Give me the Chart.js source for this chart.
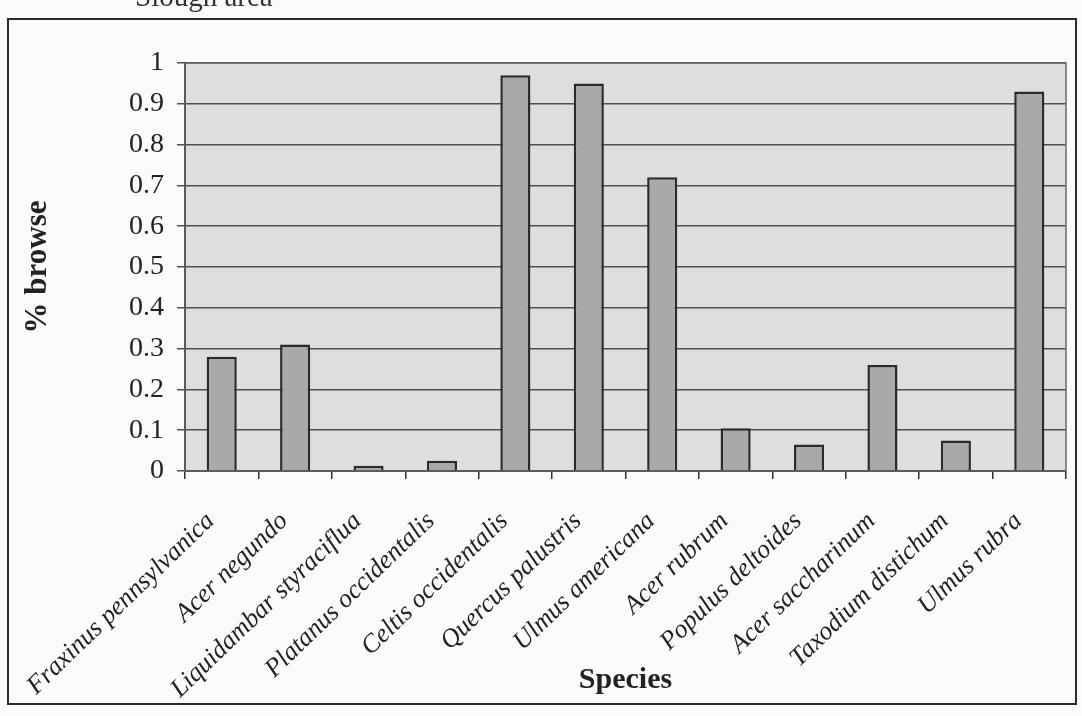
<!DOCTYPE html>
<html>
<head>
<meta charset="utf-8">
<title>% browse by species</title>
<script src="https://cdn.jsdelivr.net/npm/chart.js@4.4.1/dist/chart.umd.min.js"></script>
<style>
  html, body { margin: 0; padding: 0; background: #fbfbfa; overflow: hidden; }
  #wrap { position: relative; width: 1082px; height: 716px; }
  #frame {
    position: absolute; left: 7px; top: 18px; width: 1070px; height: 687px;
    border: 2px solid #2a2a2a; box-sizing: border-box; pointer-events: none;
  }
  #heading {
    position: absolute; left: 135px; top: -20px;
    font: 29px "Liberation Serif", "DejaVu Serif", serif; color: #333;
    white-space: nowrap;
  }
</style>
</head>
<body>
<div id="wrap">
  <div id="heading">Slough area</div>
  <canvas id="chart" width="1082" height="716"></canvas>
  <div id="frame"></div>
</div>
<script>
// Species sampled and the share of stems browsed
const species = [
  'Fraxinus pennsylvanica',
  'Acer negundo',
  'Liquidambar styraciflua',
  'Platanus occidentalis',
  'Celtis occidentalis',
  'Quercus palustris',
  'Ulmus americana',
  'Acer rubrum',
  'Populus deltoides',
  'Acer saccharinum',
  'Taxodium distichum',
  'Ulmus rubra'
];
const browse = [0.28, 0.31, 0.013, 0.025, 0.97, 0.95, 0.72, 0.105, 0.065, 0.26, 0.075, 0.93];
const yTickLabels = ['0', '0.1', '0.2', '0.3', '0.4', '0.5', '0.6', '0.7', '0.8', '0.9', '1'];

const serif = '"Liberation Serif", "DejaVu Serif", serif';

// Grey plot panel with a thin outline around the chart area
const plotPanel = {
  id: 'plotPanel',
  beforeDraw(chart) {
    const { ctx, chartArea: a } = chart;
    ctx.save();
    ctx.fillStyle = '#dedede';
    ctx.fillRect(a.left, a.top, a.right - a.left, a.bottom - a.top);
    ctx.restore();
  },
  beforeDatasetsDraw(chart) {
    const { ctx, chartArea: a } = chart;
    ctx.save();
    ctx.strokeStyle = '#6a6a6a';
    ctx.lineWidth = 1.5;
    ctx.strokeRect(a.left, a.top, a.right - a.left, a.bottom - a.top);
    ctx.restore();
  }
};

new Chart(document.getElementById('chart'), {
  type: 'bar',
  data: {
    labels: species,
    datasets: [{
      label: '% browse',
      data: browse,
      backgroundColor: '#a9a9a9',
      borderColor: '#2b2b2b',
      borderWidth: 2.5,
      borderSkipped: 'bottom',
      barPercentage: 0.41,
      categoryPercentage: 1
    }]
  },
  plugins: [plotPanel],
  options: {
    responsive: false,
    devicePixelRatio: 1,
    animation: false,
    layout: { padding: { top: 63, right: 16, left: 0, bottom: 0 } },
    plugins: {
      legend: { display: false },
      tooltip: { enabled: false }
    },
    scales: {
      x: {
        afterFit(scale) { scale.height = 245; },
        grid: {
          display: true,
          drawOnChartArea: false,
          drawTicks: true,
          tickLength: 8,
          offset: true,
          color: '#333',
          lineWidth: 1.5
        },
        border: { display: true, color: '#333', width: 2 },
        ticks: {
          autoSkip: false,
          minRotation: 44,
          maxRotation: 44,
          padding: 27,
          labelOffset: -11,
          color: '#222',
          font: { family: serif, size: 26, style: 'italic' }
        },
        title: {
          display: true,
          text: 'Species',
          color: '#222',
          padding: { top: 0, bottom: 18 },
          font: { family: serif, size: 30, weight: 'bold' }
        }
      },
      y: {
        min: 0,
        max: 1,
        afterFit(scale) { scale.width = 185; },
        grid: {
          color: '#505050',
          lineWidth: 1.5,
          drawTicks: true,
          tickLength: 8
        },
        border: { display: true, color: '#333', width: 2 },
        ticks: {
          stepSize: 0.1,
          padding: 13,
          color: '#222',
          font: { family: serif, size: 28 },
          callback: (v) => yTickLabels[Math.round(v * 10)]
        },
        title: {
          display: true,
          text: '% browse',
          color: '#222',
          padding: { top: 19, bottom: 0 },
          font: { family: serif, size: 31, weight: 'bold' }
        }
      }
    }
  }
});
</script>
</body>
</html>
